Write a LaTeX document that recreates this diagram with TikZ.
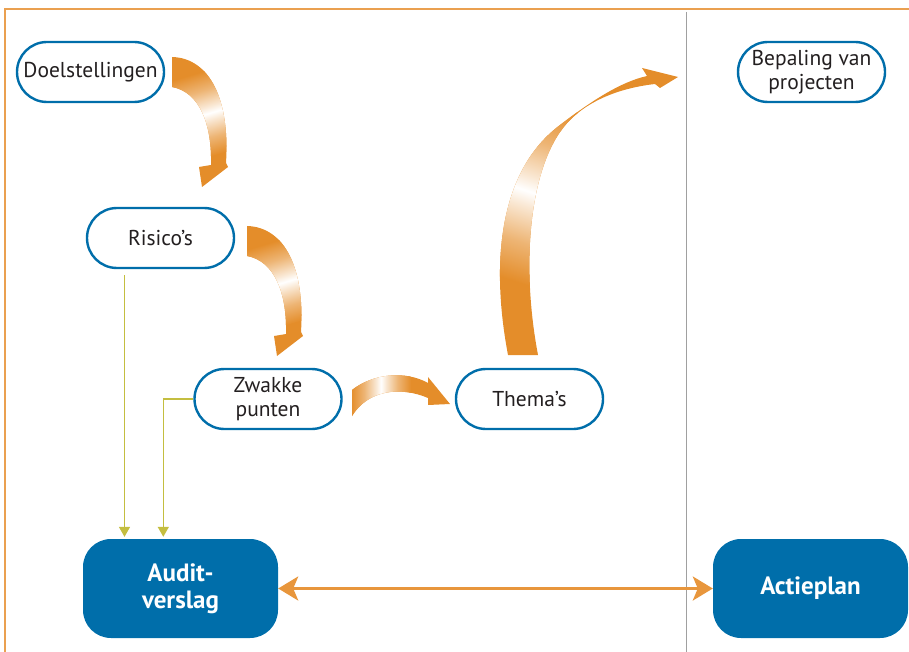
\documentclass[tikz,border=0pt]{standalone}
\usepackage{fontspec}
\setmainfont{PT Sans}
\usetikzlibrary{arrows.meta,calc}
\definecolor{nblue}{RGB}{0,110,170}
\definecolor{ntext}{RGB}{35,31,32}
\definecolor{aorange}{RGB}{228,141,42}
\definecolor{lorange}{RGB}{232,150,60}
\definecolor{olivec}{RGB}{196,190,64}
\definecolor{frameorange}{RGB}{234,160,80}
\definecolor{sepgray}{RGB}{160,160,160}
\pgfdeclarehorizontalshading{bandshade}{100bp}{color(0bp)=(aorange); color(25bp)=(aorange); color(36bp)=(aorange!65!white); color(46bp)=(aorange!20!white); color(50bp)=(white); color(54bp)=(aorange!20!white); color(64bp)=(aorange!65!white); color(75bp)=(aorange); color(100bp)=(aorange)}
\tikzset{
  soft/.style={draw=nblue, line width=2.4pt, fill=white, rounded corners=30pt,
    minimum width=147pt, minimum height=60pt, align=center, text=ntext,
    font=\fontsize{21.5}{24.5}\selectfont, inner sep=0pt},
  hard/.style={fill=nblue, rounded corners=28pt, minimum width=195pt,
    minimum height=99pt, align=center, text=white,
    font=\bfseries\fontsize{25}{27}\selectfont, inner sep=0pt},
  oline/.style={draw=olivec, line width=1.5pt, -{Triangle[length=10pt,width=11pt]}},
  dline/.style={draw=lorange, line width=3pt,
    {Stealth[length=20pt,width=24pt,inset=5pt]}-{Stealth[length=20pt,width=24pt,inset=5pt]}},
  framel/.style={draw=frameorange, line width=1.2pt},
  sepl/.style={draw=sepgray, line width=1pt},
}
\begin{document}
\begin{tikzpicture}[x=1pt,y=-1pt]
\useasboundingbox (0,0) rectangle (909,652);
% frame
\coordinate (f1) at (909,9);
\coordinate (f2) at (5,9);
\coordinate (f3) at (5,652);
\draw[framel] (f1) -- (f2) -- (f3);
% separator
\coordinate (g1) at (686,12);
\coordinate (g2) at (686,652);
\draw[sepl] (g1) -- (g2);

% curved arrows
\def\arrA{(172,57) .. controls (210,58) and (230,100) .. (226,163) -- (228,167) -- (202,187) -- (199,167) -- (211,165) .. controls (212,125) and (200,92) .. (172,87) -- cycle}
\def\arrB{(247,226) .. controls (285,227) and (305,269) .. (301,332) -- (303,336) -- (277,356) -- (274,336) -- (286,334) .. controls (287,294) and (275,261) .. (247,256) -- cycle}
\def\arrC{(352,390) .. controls (372,374) and (405,370) .. (428,383) -- (428,377) -- (450,404) -- (428,405) -- (428,398) .. controls (400,386) and (368,390) .. (352,416) -- cycle}
\def\arrD{(508,355) .. controls (490,260) and (500,170) .. (560,125) .. controls (590,102) and (620,82) .. (647,76) -- (642,68) -- (678,77) -- (660,88) -- (655,84) .. controls (620,88) and (590,100) .. (570,120) .. controls (530,160) and (520,260) .. (538,355) -- cycle}

\fill[aorange] \arrA;
\begin{scope}
  \clip \arrA;
  \shade[shading=bandshade, transform canvas={shift={(216,111)},rotate=-73}] (-42,-60) rectangle (42,60);
\end{scope}
\fill[aorange] \arrB;
\begin{scope}
  \clip \arrB;
  \shade[shading=bandshade, transform canvas={shift={(291,280)},rotate=-73}] (-42,-60) rectangle (42,60);
\end{scope}
\fill[aorange] \arrC;
\begin{scope}
  \clip \arrC;
  \shade[shading=bandshade, transform canvas={shift={(381,388)},rotate=0}] (-30,-40) rectangle (30,40);
\end{scope}
\fill[aorange] \arrD;
\begin{scope}
  \clip \arrD;
  \shade[shading=bandshade, transform canvas={shift={(525,190)},rotate=72}] (-90,-80) rectangle (90,80);
\end{scope}

% nodes
\node[soft] (doel) at (90.5,72) {Doelstellingen};
\node[soft] (ris) at (160.5,238) {Risico’s};
\node[soft] (zw) at (268,399) {Zwakke\\punten};
\node[soft] (th) at (529.5,399) {Thema’s};
\node[soft] (bep) at (811.5,72) {Bepaling van\\projecten};
\node[hard] (aud) at (180.5,588.5) {Audit-\\verslag};
\node[hard] (act) at (810.5,588.5) {Actieplan};

% connectors
\draw[oline] ($(ris.south)+(-36,6)$) -- ($(ris.south |- aud.north)+(-36,-2)$);
\draw[oline] (zw.west) -| ($(zw.west |- aud.north)+(-30,-2)$);
\draw[dline] (aud.east) -- (act.west);
\end{tikzpicture}
\end{document}
